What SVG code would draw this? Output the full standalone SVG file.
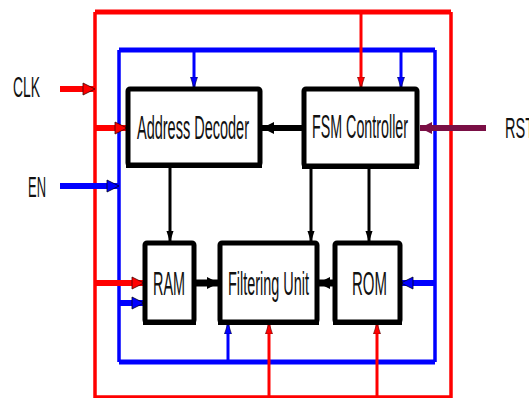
<svg xmlns="http://www.w3.org/2000/svg" width="529" height="398" viewBox="0 0 529 398">
<style>
.box{fill:#fff;stroke:#000;stroke-width:5;stroke-linejoin:round}
.lbl{font-family:"Liberation Sans",Arial,sans-serif;font-size:34px;fill:#111}
.io{font-family:"Liberation Sans",Arial,sans-serif;font-size:30px;fill:#111}
.r{stroke:#ff0000;fill:none}
.b{stroke:#0000ff;fill:none}
.k{stroke:#000;fill:none}
.m{stroke:#7a0f45;fill:none}
</style>
<defs>
<marker id="hr" markerUnits="userSpaceOnUse" markerWidth="14" markerHeight="14" refX="13" refY="7" orient="auto"><path d="M1,1 L13,7 L1,13 Z" fill="#ff0000" stroke="#400" stroke-width="0.8"/></marker>
<marker id="hb" markerUnits="userSpaceOnUse" markerWidth="14" markerHeight="14" refX="13" refY="7" orient="auto"><path d="M1,1 L13,7 L1,13 Z" fill="#0000ff" stroke="#002" stroke-width="0.8"/></marker>
<marker id="hk" markerUnits="userSpaceOnUse" markerWidth="14" markerHeight="14" refX="13" refY="7" orient="auto"><path d="M1,1 L13,7 L1,13 Z" fill="#000"/></marker>
<marker id="hm" markerUnits="userSpaceOnUse" markerWidth="14" markerHeight="14" refX="13" refY="7" orient="auto"><path d="M1,1 L13,7 L1,13 Z" fill="#7a0f45"/></marker>
<marker id="tr" markerUnits="userSpaceOnUse" markerWidth="12" markerHeight="16" refX="14" refY="5" orient="auto" viewBox="0 0 15 10"><path d="M0,0.5 L14,5 L0,9.5 Z" fill="#ff0000" stroke="#400" stroke-width="0.7"/></marker>
<marker id="tb" markerUnits="userSpaceOnUse" markerWidth="12" markerHeight="16" refX="14" refY="5" orient="auto" viewBox="0 0 15 10"><path d="M0,0.5 L14,5 L0,9.5 Z" fill="#0000ff" stroke="#002" stroke-width="0.7"/></marker>
<marker id="tk" markerUnits="userSpaceOnUse" markerWidth="12" markerHeight="16" refX="14" refY="5" orient="auto" viewBox="0 0 15 10"><path d="M0,0.5 L14,5 L0,9.5 Z" fill="#000"/></marker>
</defs>

<g id="connectors">
  <path class="r" stroke-width="5" d="M95,12 H451"/>
  <path class="r" stroke-width="3.5" d="M95,12 V397 H451 V12"/>
  <path class="b" stroke-width="5" d="M119,50 H435"/>
  <path class="b" stroke-width="3.5" d="M119,50 V362 M435,50 V362"/>
  <path class="b" stroke-width="5" d="M119,362 H435"/>

  <path class="r" stroke-width="6" d="M60,89 H95" marker-end="url(#hr)"/>
  <path class="b" stroke-width="6" d="M60,186 H119" marker-end="url(#hb)"/>
  <path class="m" stroke-width="6" d="M486,128 H420" marker-end="url(#hm)"/>

  <path class="r" stroke-width="6" d="M95,128 H127" marker-end="url(#hr)"/>
  <path class="b" stroke-width="3" d="M194,50 V88" marker-end="url(#tb)"/>
  <path class="r" stroke-width="3" d="M361,12 V88" marker-end="url(#tr)"/>
  <path class="b" stroke-width="3" d="M401,50 V88" marker-end="url(#tb)"/>

  <path class="k" stroke-width="6" d="M304,128 H262" marker-end="url(#hk)"/>
  <path class="k" stroke-width="3" d="M170,166 V242" marker-end="url(#tk)"/>
  <path class="k" stroke-width="3" d="M311,167 V242" marker-end="url(#tk)"/>
  <path class="k" stroke-width="3" d="M369,167 V242" marker-end="url(#tk)"/>

  <path class="k" stroke-width="7" d="M195,283 H219" marker-end="url(#hk)"/>
  <path class="k" stroke-width="7" d="M334,283 H318" marker-end="url(#hk)"/>

  <path class="r" stroke-width="6" d="M95,283 H144" marker-end="url(#hr)"/>
  <path class="b" stroke-width="6" d="M119,303 H144" marker-end="url(#hb)"/>
  <path class="b" stroke-width="6" d="M435,283 H401" marker-end="url(#hb)"/>
  <path class="b" stroke-width="3" d="M228,362 V323" marker-end="url(#tb)"/>
  <path class="r" stroke-width="3" d="M269,397 V323" marker-end="url(#tr)"/>
  <path class="r" stroke-width="3" d="M377,397 V323" marker-end="url(#tr)"/>
</g>

<g id="address-decoder">
  <rect class="box" x="128" y="89" width="132" height="76" rx="2"/>
  <path d="M126,166 H262" stroke="#000" stroke-width="4"/>
  <text class="lbl" x="137" y="139" textLength="112" lengthAdjust="spacingAndGlyphs">Address Decoder</text>
</g>
<g id="fsm-controller">
  <rect class="box" x="304" y="89" width="113" height="77" rx="2"/>
  <path d="M302,167 H419" stroke="#000" stroke-width="4"/>
  <text class="lbl" x="312" y="138" textLength="96" lengthAdjust="spacingAndGlyphs">FSM Controller</text>
</g>
<g id="ram">
  <rect class="box" x="145" y="243" width="49" height="79" rx="2"/>
  <path d="M143,323 H196" stroke="#000" stroke-width="4"/>
  <text class="lbl" x="153" y="295" textLength="32" lengthAdjust="spacingAndGlyphs">RAM</text>
</g>
<g id="filtering-unit">
  <rect class="box" x="220" y="243" width="97" height="79" rx="2"/>
  <path d="M218,323 H319" stroke="#000" stroke-width="4"/>
  <text class="lbl" x="228" y="295" textLength="81" lengthAdjust="spacingAndGlyphs">Filtering Unit</text>
</g>
<g id="rom">
  <rect class="box" x="335" y="243" width="65" height="79" rx="2"/>
  <path d="M333,323 H402" stroke="#000" stroke-width="4"/>
  <text class="lbl" x="352" y="295" textLength="35" lengthAdjust="spacingAndGlyphs">ROM</text>
</g>

<g id="clk"><text class="io" x="13" y="97" textLength="27" lengthAdjust="spacingAndGlyphs">CLK</text></g>
<g id="en"><text class="io" x="28" y="197" textLength="18" lengthAdjust="spacingAndGlyphs">EN</text></g>
<g id="rst"><text class="io" x="505" y="138" textLength="29" lengthAdjust="spacingAndGlyphs">RST</text></g>
</svg>
